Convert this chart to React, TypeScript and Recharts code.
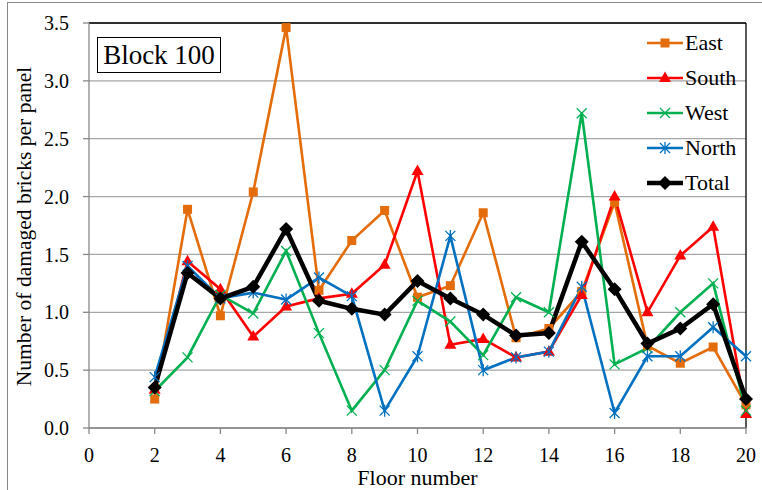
import React from 'react';
import { LineChart, Line, XAxis, YAxis, CartesianGrid, Legend, Label, ReferenceLine } from 'recharts';

const floors = [2, 3, 4, 5, 6, 7, 8, 9, 10, 11, 12, 13, 14, 15, 16, 17, 18, 19, 20];
const east = [0.25, 1.89, 0.97, 2.04, 3.46, 1.19, 1.62, 1.88, 1.13, 1.23, 1.86, 0.78, 0.86, 1.18, 1.95, 0.71, 0.56, 0.7, 0.2];
const south = [0.33, 1.44, 1.2, 0.79, 1.05, 1.12, 1.16, 1.41, 2.22, 0.72, 0.77, 0.61, 0.66, 1.15, 2.0, 1.0, 1.49, 1.74, 0.12];
const west = [0.32, 0.61, 1.15, 0.99, 1.53, 0.82, 0.15, 0.5, 1.1, 0.92, 0.63, 1.13, 1.0, 2.72, 0.55, 0.69, 1.0, 1.25, 0.15];
const north = [0.44, 1.4, 1.12, 1.17, 1.11, 1.3, 1.14, 0.15, 0.62, 1.66, 0.5, 0.61, 0.66, 1.22, 0.13, 0.62, 0.62, 0.87, 0.62];
const total = [0.35, 1.34, 1.12, 1.22, 1.72, 1.1, 1.03, 0.98, 1.27, 1.12, 0.98, 0.8, 0.82, 1.61, 1.2, 0.73, 0.86, 1.07, 0.25];
const xTicks = [0, 2, 4, 6, 8, 10, 12, 14, 16, 18, 20];
const yTicks = [0, 0.5, 1, 1.5, 2, 2.5, 3, 3.5];

const data = floors.map((f, i) => ({
  floor: f,
  East: east[i],
  South: south[i],
  West: west[i],
  North: north[i],
  Total: total[i],
}));

const ORANGE = '#E46C0A';
const RED = '#FF0000';
const GREEN = '#00B050';
const BLUE = '#0070C0';
const FONT = "'Liberation Serif', Tinos, 'Times New Roman', 'DejaVu Serif', serif";

type MarkProps = { cx: number; cy: number };

const Square = ({ cx, cy }: MarkProps) => <rect x={cx - 4.5} y={cy - 4.5} width={9} height={9} fill={ORANGE} />;
const Triangle = ({ cx, cy }: MarkProps) => (
  <polygon points={`${cx},${cy - 6.5} ${cx + 6},${cy + 4} ${cx - 6},${cy + 4}`} fill={RED} />
);
const Cross = ({ cx, cy }: MarkProps) => (
  <g stroke={GREEN} strokeWidth={1.3}>
    <line x1={cx - 5} y1={cy - 5} x2={cx + 5} y2={cy + 5} />
    <line x1={cx - 5} y1={cy + 5} x2={cx + 5} y2={cy - 5} />
  </g>
);
const Star = ({ cx, cy }: MarkProps) => (
  <g stroke={BLUE} strokeWidth={1.3}>
    <line x1={cx - 5} y1={cy - 5} x2={cx + 5} y2={cy + 5} />
    <line x1={cx - 5} y1={cy + 5} x2={cx + 5} y2={cy - 5} />
    <line x1={cx} y1={cy - 6} x2={cx} y2={cy + 6} />
  </g>
);
const Diamond = ({ cx, cy }: MarkProps) => (
  <polygon points={`${cx},${cy - 7} ${cx + 7},${cy} ${cx},${cy + 7} ${cx - 7},${cy}`} fill="#000" />
);

const series = [
  { key: 'East', color: ORANGE, width: 2.6, Mark: Square },
  { key: 'South', color: RED, width: 2.6, Mark: Triangle },
  { key: 'West', color: GREEN, width: 2.6, Mark: Cross },
  { key: 'North', color: BLUE, width: 2.6, Mark: Star },
  { key: 'Total', color: '#000', width: 4.5, Mark: Diamond },
];

const renderLegend = () => (
  <div style={{ fontFamily: FONT, fontSize: 22, color: '#000' }}>
    {series.map(({ key, color, width, Mark }) => (
      <div key={key} style={{ display: 'flex', alignItems: 'center', height: 34.8 }}>
        <svg width={36} height={16}>
          <line x1={0} y1={8} x2={36} y2={8} stroke={color} strokeWidth={width} />
          <Mark cx={18} cy={8} />
        </svg>
        <span style={{ marginLeft: 2, lineHeight: '22px' }}>{key}</span>
      </div>
    ))}
  </div>
);

const YTitle = ({ viewBox }: any) => {
  const x = viewBox.x + 24;
  const y = viewBox.y + viewBox.height / 2 + 1;
  return (
    <text
      x={x}
      y={y}
      transform={`rotate(-90 ${x} ${y})`}
      textAnchor="middle"
      dominantBaseline="central"
      fill="#000"
      fontSize={21.5}
      fontFamily={FONT}
    >
      Number of damaged bricks per panel
    </text>
  );
};

export default function App() {
  return (
    <div style={{ position: 'fixed', left: 0, top: 0, width: 762, height: 490, background: '#fff', fontFamily: FONT }}>
      <div
        style={{
          position: 'absolute',
          left: 7,
          top: 2,
          right: -2,
          bottom: -2,
          borderTop: '1px solid #888',
          borderLeft: '1px solid #888',
        }}
      />
      <LineChart
        width={762}
        height={490}
        data={data}
        margin={{ top: 23, right: 16, bottom: 0, left: 0 }}
        style={{ fontFamily: FONT }}
      >
        <CartesianGrid vertical={false} stroke="#A6A6A6" strokeWidth={1.3} />
        <XAxis
          dataKey="floor"
          type="number"
          domain={[0, 20]}
          ticks={xTicks}
          height={62}
          tickSize={6}
          tickMargin={14}
          tick={{ fill: '#000', fontSize: 20, fontFamily: FONT }}
          stroke="#888"
          strokeWidth={1.3}
        >
          <Label value="Floor number" position="insideBottom" offset={5} style={{ fill: '#000', fontSize: 22, fontFamily: FONT }} />
        </XAxis>
        <YAxis
          type="number"
          domain={[0, 3.5]}
          ticks={yTicks}
          width={89}
          tickSize={6}
          tickMargin={14}
          tickFormatter={(v: number) => v.toFixed(1)}
          tick={{ fill: '#000', fontSize: 20, fontFamily: FONT }}
          stroke="#888"
          strokeWidth={1.3}
        >
          <Label content={YTitle} />
        </YAxis>
        <ReferenceLine y={3.5} stroke="#000" strokeWidth={1.3} />
        <ReferenceLine x={20} stroke="#000" strokeWidth={1.3} />
        {series.map(({ key, color, width, Mark }) => (
          <Line
            key={key}
            type="linear"
            dataKey={key}
            stroke={color}
            strokeWidth={width}
            isAnimationActive={false}
            dot={(p: any) => <Mark key={`${key}-${p.index}`} cx={p.cx} cy={p.cy} />}
            activeDot={false}
          />
        ))}
        <Legend
          layout="vertical"
          verticalAlign="middle"
          align="center"
          content={renderLegend}
          wrapperStyle={{ top: 26, left: 647, width: 110 }}
        />
      </LineChart>
      <div
        style={{
          position: 'absolute',
          left: 97,
          top: 37,
          width: 122,
          height: 34,
          border: '1.5px solid #000',
          fontFamily: FONT,
          fontSize: 27,
          display: 'flex',
          alignItems: 'center',
          justifyContent: 'center',
          background: '#fff',
        }}
      >
        Block 100
      </div>
    </div>
  );
}
